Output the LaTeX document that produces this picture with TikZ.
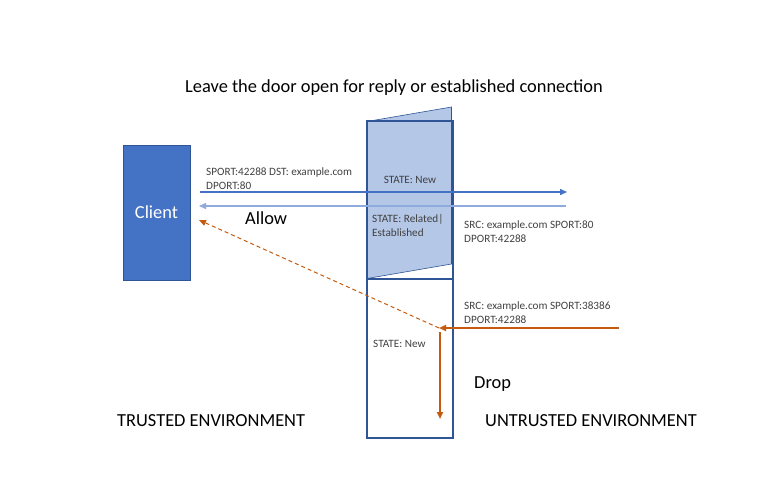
\documentclass[tikz,border=0pt]{standalone}
\usepackage{fontspec}
\setmainfont{Carlito}
\usetikzlibrary{arrows.meta}
\definecolor{frameblue}{HTML}{2F5597}
\definecolor{clientblue}{HTML}{4472C4}
\definecolor{lightarrow}{HTML}{8FAADC}
\definecolor{doorfill}{HTML}{B4C7E7}
\definecolor{orangec}{HTML}{C55A11}
\definecolor{txtgray}{HTML}{404040}
\tikzset{
  small/.style={font=\fontsize{11.2}{14}\selectfont, text=txtgray, align=left, inner sep=0pt, anchor=west},
  big/.style={font=\fontsize{18.4}{21}\selectfont, inner sep=0pt},
  frame/.style={draw=frameblue, line width=1.6pt},
  tip/.style={-{Triangle[length=7pt,width=6pt]}},
}
\begin{document}
\begin{tikzpicture}[x=1pt,y=-1pt]
\useasboundingbox (0,0) rectangle (784,479);
% door (open leaf)
\path[fill=doorfill, draw=frameblue, line width=0.6pt] (367,121.5) -- (451.5,107) -- (451.5,264) -- (367,278.5) -- cycle;
% frame
\node[frame, minimum width=86pt, minimum height=158pt, inner sep=0pt] (upper) at (410,200) {};
\node[frame, minimum width=86pt, minimum height=159pt, inner sep=0pt] (lower) at (410,358.5) {};
% client
\node[fill=clientblue, draw=frameblue, line width=0.8pt, minimum width=67pt, minimum height=135pt, inner sep=0pt,
      text=white, font=\fontsize{18.4}{21}\selectfont] (client) at (156.5,212.5) {Client};
% coordinates
\coordinate (a1s) at (200,192);
\coordinate (a1e) at (567,192);
\coordinate (a2s) at (566,206);
\coordinate (a2e) at (199,206);
\coordinate (os) at (619,328);
\coordinate (oj) at (439,328);
\coordinate (ode) at (199,220);
\coordinate (odn) at (440,332);
\coordinate (odd) at (440,419);
% arrows
\draw[clientblue, line width=1.4pt, tip] (a1s) -- (a1e);
\draw[lightarrow, line width=1.4pt, tip] (a2s) -- (a2e);
\draw[orangec, line width=1.8pt, tip] (os) -- (oj);
\draw[orangec, line width=1pt, dashed, dash pattern=on 4pt off 3pt, tip] (oj) -- (ode);
\draw[orangec, line width=1.8pt, tip] (odn) -- (odd);
% texts
\node[big] (title) at (394,88) {Leave the door open for reply or established connection};
\node[small] (t1) at (206,178.5) {SPORT:42288 DST: example.com\\DPORT:80};
\node[small, anchor=center] (t2) at (410,180) {STATE: New};
\node[big, anchor=west] (allow) at (245,218) {Allow};
\node[small] (t3) at (372,225.5) {STATE: Related|\\Established};
\node[small] (t4) at (464,231.5) {SRC: example.com SPORT:80\\DPORT:42288};
\node[small] (t5) at (464,313) {SRC: example.com SPORT:38386\\DPORT:42288};
\node[small] (t6) at (373,344) {STATE: New};
\node[big, anchor=west] (drop) at (474,384) {Drop};
\node[big, anchor=west] (trusted) at (117,421) {TRUSTED ENVIRONMENT};
\node[big, anchor=west] (untrusted) at (485,421) {UNTRUSTED ENVIRONMENT};
\end{tikzpicture}
\end{document}
